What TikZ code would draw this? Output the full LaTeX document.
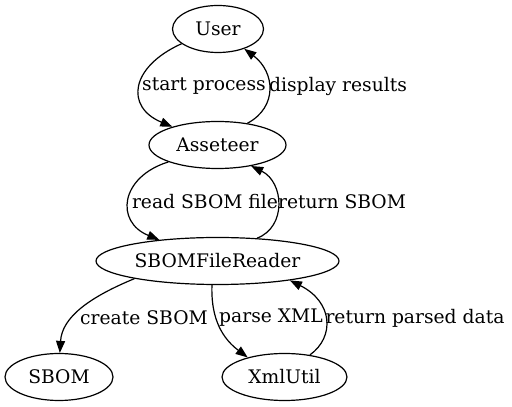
\documentclass[tikz,border=0pt]{standalone}
\usepackage{fontspec}
\setmainfont{DejaVu Serif}
\usetikzlibrary{shapes.geometric, arrows.meta}

\begin{document}
\begin{tikzpicture}[
    x = 1pt, y = 1pt,
    every node/.style = {font=\fontsize{18.7}{22}\selectfont},
    actor/.style      = {ellipse, draw, line width=1.2pt, inner sep=0pt, minimum height=47pt},
    edge/.style       = {line width=1.2pt, -{Triangle[length=12pt, width=9pt]}},
    lbl/.style        = {inner sep=0pt}
  ]
  \useasboundingbox (0,0) rectangle (512,407);

  % components
  \node[actor, minimum width=91pt]  (user)     at (218,378)   {User};
  \node[actor, minimum width=137pt] (asseteer) at (217.5,262) {Asseteer};
  \node[actor, minimum width=243pt] (reader)   at (217.5,146) {SBOMFileReader};
  \node[actor, minimum width=108pt] (sbom)     at (59,30)     {SBOM};
  \node[actor, minimum width=125pt] (xmlutil)  at (284.5,30)  {XmlUtil};

  % calls and returns
  \draw[edge] (user.202) .. controls (130,340) and (125,300) .. (asseteer.158);
  \draw[edge] (asseteer.36) .. controls (278,300) and (275,335) .. (user.-37);
  \draw[edge] (asseteer.199) .. controls (120,230) and (115,185) .. (reader.160);
  \draw[edge] (reader.30) .. controls (287,180) and (284,225) .. (asseteer.-32);
  \draw[edge] (reader.192) .. controls (90,110) and (62,90) .. (sbom.88);
  \draw[edge] (reader.257) .. controls (211,95) and (218,72) .. (xmlutil.152);
  \draw[edge] (xmlutil.41) .. controls (335,70) and (333,105) .. (reader.-15);

  % edge labels
  \node[lbl] (l-start)   at (204,321) {start process};
  \node[lbl] (l-display) at (338,321) {display results};
  \node[lbl] (l-read)    at (205,205) {read SBOM file};
  \node[lbl] (l-return)  at (342,205) {return SBOM};
  \node[lbl] (l-create)  at (144,89)  {create SBOM};
  \node[lbl] (l-parse)   at (271,89)  {parse XML};
  \node[lbl] (l-parsed)  at (415,89)  {return parsed data};
\end{tikzpicture}
\end{document}
